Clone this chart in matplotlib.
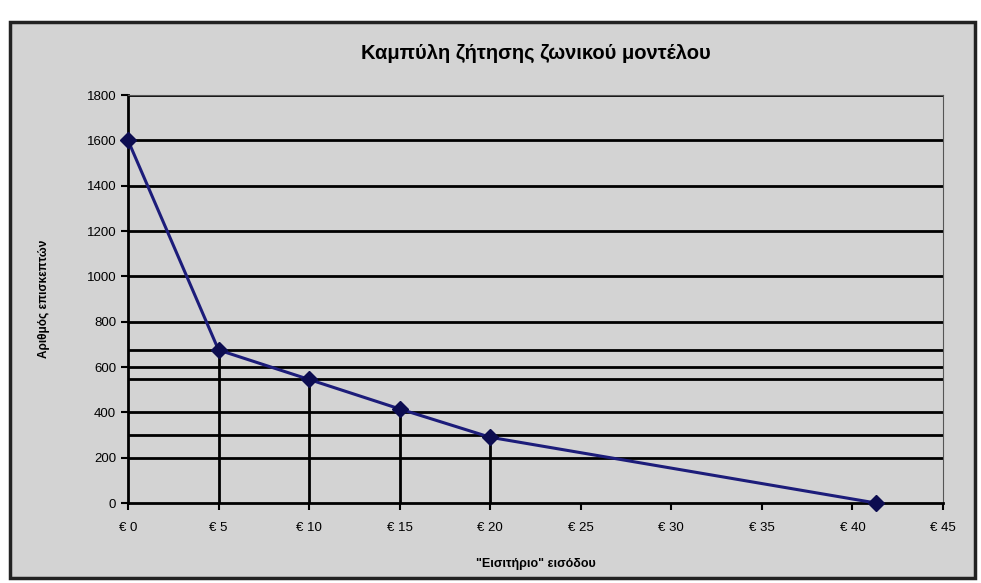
import matplotlib.pyplot as plt
from matplotlib.patches import Rectangle

# data
prices = [0, 5, 10, 15, 20, 41.3]
visitors = [1600, 675, 545, 415, 290, 0]
ref_levels = [675, 547, 300]          # extra horizontal guide lines
drop_x = [5, 10, 15, 20]              # vertical drop lines
drop_y = [675, 545, 415, 290]
xticks_v = [0, 5, 10, 15, 20, 25, 30, 35, 40, 45]
xtick_lbl = ["€ %d" % v for v in xticks_v]
yticks_v = [0, 200, 400, 600, 800, 1000, 1200, 1400, 1600, 1800]

plt.rcParams['font.family'] = ['Liberation Sans', 'DejaVu Sans']
bg = '#d3d3d3'

fig = plt.figure(figsize=(9.81, 5.83), dpi=100, facecolor='white')
fig.patches.append(Rectangle((10/981, 1-578/583), 965/981, 556/583,
                             transform=fig.transFigure, facecolor=bg,
                             edgecolor='#222222', lw=2.5, zorder=-10))
ax = fig.add_axes([128/981, 1-503/583, 815/981, 408/583])
ax.set_zorder(1)
ax.set_facecolor(bg)

for v in yticks_v[1:]:
    ax.axhline(v, color='black', lw=2, zorder=1)
for v in ref_levels:
    ax.axhline(v, color='black', lw=2, zorder=1)
for x, y in zip(drop_x, drop_y):
    ax.plot([x, x], [0, y], color='black', lw=2, zorder=1)

ax.plot(prices, visitors, color='#1c1c7a', lw=2.2, marker='D', ms=8,
        mfc='#0c0c50', mec='#0c0c50', zorder=3, clip_on=False)

ax.set_xlim(0, 45)
ax.set_ylim(0, 1800)
ax.set_xticks(xticks_v, xtick_lbl)
ax.set_yticks(yticks_v)
ax.tick_params(labelsize=9.5, length=5, width=1.5, direction='out')
ax.tick_params(axis='x', pad=9)
for s in ['left', 'bottom']:
    ax.spines[s].set_linewidth(2)
for s in ['top', 'right']:
    ax.spines[s].set_color('#555555')

ax.set_title("Καμπύλη ζήτησης ζωνικού μοντέλου", fontsize=14.5, fontweight='bold', pad=26)
ax.set_xlabel('"Εισιτήριο" εισόδου', fontsize=9, fontweight='bold', labelpad=17)
ax.set_ylabel("Αριθμός επισκεπτών", fontsize=8.5, fontweight='bold', labelpad=26)

fig.savefig("out.png", dpi=100, facecolor='white')
